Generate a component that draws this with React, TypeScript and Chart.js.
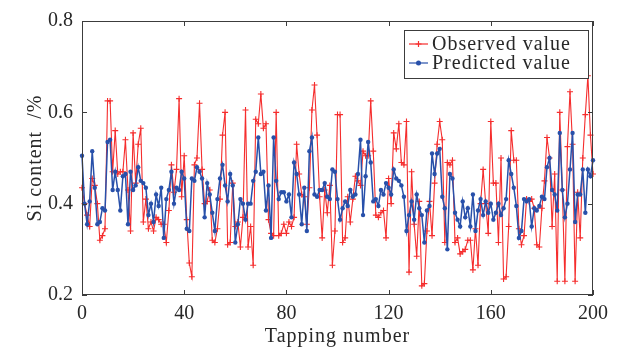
import React, { useEffect, useRef } from "react";
import { Chart, registerables } from "chart.js";

Chart.register(...registerables);

const tappingIndex: number[] = Array.from({ length: 201 }, (_, i) => i);

const observedValue: number[] = [
  0.435, 0.40, 0.375, 0.35, 0.455, 0.44, 0.40, 0.32, 0.33, 0.345,
  0.625, 0.625, 0.47, 0.56, 0.465, 0.47, 0.47, 0.54, 0.43, 0.34,
  0.555, 0.445, 0.53, 0.565, 0.36, 0.41, 0.345, 0.36, 0.34, 0.37,
  0.365, 0.355, 0.355, 0.315, 0.385, 0.485, 0.425, 0.475, 0.63, 0.415,
  0.505, 0.365, 0.27, 0.24, 0.485, 0.50, 0.62, 0.475, 0.40, 0.405,
  0.43, 0.32, 0.315, 0.345, 0.41, 0.55, 0.60, 0.31, 0.315, 0.445,
  0.35, 0.36, 0.305, 0.37, 0.605, 0.305, 0.35, 0.265, 0.585, 0.575,
  0.64, 0.565, 0.575, 0.365, 0.335, 0.33, 0.60, 0.33, 0.335, 0.355,
  0.335, 0.36, 0.35, 0.37, 0.53, 0.465, 0.42, 0.415, 0.355, 0.435,
  0.605, 0.66, 0.55, 0.415, 0.325, 0.43, 0.38, 0.44, 0.265, 0.34,
  0.595, 0.595, 0.315, 0.325, 0.415, 0.36, 0.41, 0.46, 0.45, 0.44,
  0.515, 0.505, 0.505, 0.625, 0.515, 0.375, 0.37, 0.38, 0.385, 0.325,
  0.455, 0.40, 0.555, 0.52, 0.575, 0.49, 0.485, 0.58, 0.25, 0.47,
  0.355, 0.285, 0.405, 0.22, 0.225, 0.34, 0.405, 0.33, 0.445, 0.53,
  0.58, 0.54, 0.315, 0.49, 0.485, 0.495, 0.315, 0.325, 0.29, 0.295,
  0.30, 0.32, 0.32, 0.255, 0.345, 0.265, 0.40, 0.475, 0.40, 0.335,
  0.58, 0.445, 0.445, 0.315, 0.50, 0.235, 0.24, 0.35, 0.56, 0.495,
  0.495, 0.345, 0.31, 0.33, 0.41, 0.405, 0.41, 0.39, 0.31, 0.305,
  0.39, 0.45, 0.545, 0.50, 0.35, 0.465, 0.23, 0.60, 0.43, 0.23,
  0.525, 0.645, 0.53, 0.23, 0.425, 0.325, 0.50, 0.595, 0.68, 0.55,
  0.465,
];

const predictedValue: number[] = [
  0.505, 0.40, 0.355, 0.405, 0.515, 0.435, 0.355, 0.36, 0.39, 0.385,
  0.535, 0.54, 0.43, 0.47, 0.43, 0.385, 0.46, 0.465, 0.355, 0.47,
  0.43, 0.44, 0.48, 0.45, 0.445, 0.435, 0.375, 0.40, 0.36, 0.42,
  0.395, 0.435, 0.325, 0.41, 0.43, 0.47, 0.40, 0.435, 0.43, 0.47,
  0.455, 0.345, 0.34, 0.455, 0.45, 0.48, 0.47, 0.455, 0.37, 0.445,
  0.42, 0.38, 0.34, 0.41, 0.455, 0.485, 0.44, 0.405, 0.465, 0.44,
  0.315, 0.355, 0.41, 0.40, 0.365, 0.40, 0.40, 0.45, 0.47, 0.545,
  0.465, 0.47, 0.385, 0.44, 0.325, 0.545, 0.45, 0.41, 0.425, 0.425,
  0.405, 0.42, 0.37, 0.49, 0.465, 0.42, 0.355, 0.435, 0.34, 0.515,
  0.545, 0.42, 0.415, 0.43, 0.43, 0.445, 0.415, 0.41, 0.475, 0.47,
  0.41, 0.365, 0.39, 0.405, 0.395, 0.43, 0.415, 0.42, 0.465, 0.54,
  0.375, 0.46, 0.535, 0.49, 0.405, 0.41, 0.395, 0.43, 0.42, 0.445,
  0.435, 0.42, 0.475, 0.455, 0.45, 0.44, 0.415, 0.34, 0.375, 0.405,
  0.365, 0.42, 0.39, 0.375, 0.315, 0.385, 0.395, 0.51, 0.465, 0.51,
  0.52, 0.415, 0.39, 0.30, 0.465, 0.455, 0.38, 0.365, 0.35, 0.405,
  0.37, 0.39, 0.35, 0.42, 0.34, 0.385, 0.41, 0.375, 0.405, 0.38,
  0.40, 0.365, 0.38, 0.40, 0.375, 0.39, 0.41, 0.495, 0.465, 0.435,
  0.395, 0.325, 0.34, 0.41, 0.405, 0.41, 0.35, 0.39, 0.385, 0.395,
  0.415, 0.41, 0.48, 0.50, 0.43, 0.42, 0.385, 0.555, 0.43, 0.37,
  0.40, 0.475, 0.555, 0.36, 0.42, 0.42, 0.475, 0.38, 0.475, 0.46,
  0.495,
];

const xTicks: number[] = [0, 40, 80, 120, 160, 200];
const yTicks: number[] = [0.2, 0.4, 0.6, 0.8];
const seriesNames: string[] = ["Observed value", "Predicted value"];
const xTitle = "Tapping number";
const yTitle = "Si content  /%";

const RED = "rgb(245, 45, 45)";
const BLUE = "rgb(40, 80, 170)";
const AXIS = "rgb(60, 60, 60)";
const TEXT = "rgb(40, 40, 40)";
const FONT = "'Liberation Serif', 'Times New Roman', serif";

const boxPlugin = {
  id: "matlabBox",
  afterDatasetsDraw(chart: any) {
    const { ctx, chartArea, scales } = chart;
    const { left, right, top, bottom } = chartArea;
    ctx.save();
    ctx.strokeStyle = AXIS;
    ctx.lineWidth = 1;
    ctx.strokeRect(left + 0.5, top + 0.5, right - left - 1, bottom - top - 1);
    const tl = 5;
    ctx.beginPath();
    xTicks.forEach((t) => {
      const x = Math.round(scales.x.getPixelForValue(t)) + 0.5;
      ctx.moveTo(x, bottom);
      ctx.lineTo(x, bottom - tl);
      ctx.moveTo(x, top);
      ctx.lineTo(x, top + tl);
    });
    yTicks.forEach((t) => {
      const y = Math.round(scales.y.getPixelForValue(t)) + 0.5;
      ctx.moveTo(left, y);
      ctx.lineTo(left + tl, y);
      ctx.moveTo(right, y);
      ctx.lineTo(right - tl, y);
    });
    ctx.stroke();

    // legend box
    const lx = right - 189;
    const ly = top + 9;
    const lw = 184;
    const lh = 48;
    ctx.fillStyle = "#fff";
    ctx.fillRect(lx, ly, lw, lh);
    ctx.strokeStyle = AXIS;
    ctx.strokeRect(lx + 0.5, ly + 0.5, lw, lh);
    const colors = [RED, BLUE];
    ctx.font = `20px ${FONT}`;
    (ctx as any).letterSpacing = "1px";
    ctx.textBaseline = "middle";
    ctx.textAlign = "left";
    seriesNames.forEach((name, i) => {
      const cy = ly + 14 + i * 19;
      ctx.strokeStyle = colors[i];
      ctx.lineWidth = 1.2;
      ctx.beginPath();
      ctx.moveTo(lx + 5, cy);
      ctx.lineTo(lx + 24, cy);
      ctx.stroke();
      if (i === 0) {
        ctx.beginPath();
        ctx.moveTo(lx + 14.5, cy - 3);
        ctx.lineTo(lx + 14.5, cy + 3);
        ctx.moveTo(lx + 11.5, cy);
        ctx.lineTo(lx + 17.5, cy);
        ctx.stroke();
      } else {
        ctx.fillStyle = colors[i];
        ctx.beginPath();
        ctx.arc(lx + 14.5, cy, 2.5, 0, Math.PI * 2);
        ctx.fill();
      }
      ctx.fillStyle = TEXT;
      ctx.fillText(name, lx + 28, cy + 1);
    });

    // axis titles
    ctx.fillStyle = TEXT;
    ctx.textAlign = "center";
    ctx.textBaseline = "middle";
    ctx.fillText(xTitle, (left + right) / 2, 337);
    ctx.translate(36, (top + bottom) / 2);
    ctx.rotate(-Math.PI / 2);
    ctx.fillText(yTitle, 0, 0);
    ctx.restore();
  },
};

export default function App() {
  const ref = useRef<HTMLCanvasElement | null>(null);
  useEffect(() => {
    if (!ref.current) return;
    const chart = new Chart(ref.current, {
      type: "line",
      data: {
        labels: tappingIndex,
        datasets: [
          {
            label: seriesNames[0],
            data: tappingIndex.map((x, i) => ({ x, y: observedValue[i] })),
            borderColor: RED,
            backgroundColor: RED,
            borderWidth: 1.1,
            pointStyle: "cross",
            pointRadius: 3,
            pointBorderWidth: 1.1,
            tension: 0,
            clip: 4,
            order: 2,
          },
          {
            label: seriesNames[1],
            data: tappingIndex.map((x, i) => ({ x, y: predictedValue[i] })),
            borderColor: BLUE,
            backgroundColor: BLUE,
            borderWidth: 1.5,
            pointStyle: "circle",
            pointRadius: 2.2,
            pointBorderWidth: 0,
            tension: 0,
            clip: 4,
            order: 1,
          },
        ],
      },
      options: {
        responsive: false,
        animation: false,
        layout: { padding: { top: 21, right: 25, left: 0, bottom: 0 } },
        plugins: { legend: { display: false }, tooltip: { enabled: false } },
        scales: {
          x: {
            type: "linear",
            min: 0,
            max: 200,
            border: { display: false },
            grid: { display: false, drawTicks: false, tickLength: 0 },
            afterFit: (s: any) => {
              s.height = 54;
            },
            afterBuildTicks: (s: any) => {
              s.ticks = xTicks.map((v) => ({ value: v }));
            },
            ticks: {
              color: TEXT,
              font: { family: FONT, size: 20 },
              padding: 7,
              maxRotation: 0,
              callback: (v: any) => String(v),
            },
          },
          y: {
            min: 0.2,
            max: 0.8,
            border: { display: false },
            grid: { display: false, drawTicks: false, tickLength: 0 },
            afterFit: (s: any) => {
              s.width = 82;
            },
            afterBuildTicks: (s: any) => {
              s.ticks = yTicks.map((v) => ({ value: v }));
            },
            ticks: {
              color: TEXT,
              font: { family: FONT, size: 20 },
              padding: 9,
              callback: (v: any) => Number(v).toFixed(1),
            },
          },
        },
      },
      plugins: [boxPlugin],
    });
    return () => chart.destroy();
  }, []);
  return (
    <div style={{ position: "fixed", left: 0, top: 0, width: 618, height: 349, background: "#fff" }}>
      <canvas ref={ref} width={618} height={349} style={{ width: 618, height: 349, display: "block" }} />
    </div>
  );
}
